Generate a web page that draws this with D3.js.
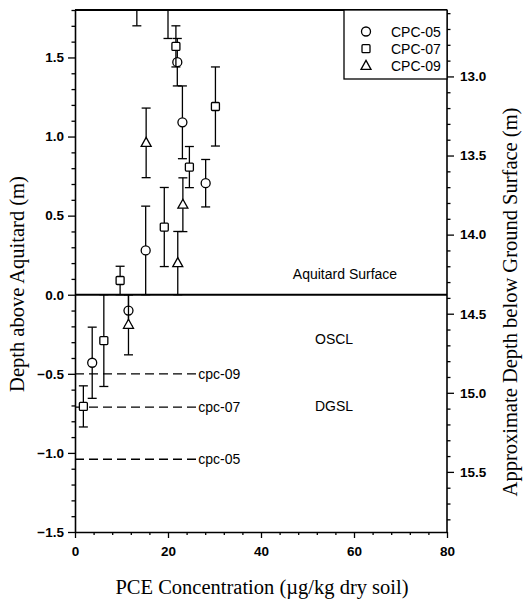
<!DOCTYPE html>
<html><head><meta charset="utf-8">
<script src="https://cdn.jsdelivr.net/npm/d3@7"></script>
<style>body{margin:0;background:#fff}svg{display:block}</style>
</head><body><svg id="c" width="525" height="604"></svg>
<script>
// ---- data ----
const seriesNames = ["CPC-05", "CPC-07", "CPC-09"];
const cpc05X = [20.0, 22.0, 23.1, 28.1, 15.2, 11.5, 3.7];
const cpc05Y = [1.90, 1.47, 1.09, 0.705, 0.28, -0.10, -0.43];
const cpc05E = [0.28, 0.15, 0.23, 0.15, 0.28, 0.10, 0.225];
const cpc07X = [21.7, 30.2, 24.6, 19.2, 9.7, 6.2, 1.8];
const cpc07Y = [1.57, 1.19, 0.807, 0.428, 0.09, -0.29, -0.706];
const cpc07E = [0.13, 0.25, 0.13, 0.25, 0.09, 0.29, 0.13];
const cpc09X = [13.3, 15.3, 23.2, 22.1, 11.5];
const cpc09Y = [2.00, 0.96, 0.569, 0.20, -0.19];
const cpc09E = [0.30, 0.22, 0.17, 0.20, 0.19];
const layerNames = ["cpc-09", "cpc-07", "cpc-05"];
const layerDepth = [-0.50, -0.71, -1.04];
const layerEndX = 26.5;
const xTicks = [0, 20, 40, 60, 80];
const yTicks = [-1.5, -1.0, -0.5, 0.0, 0.5, 1.0, 1.5];
const rTicks = [13.0, 13.5, 14.0, 14.5, 15.0, 15.5];
const aquitardDepthBGS = 14.38; // ground-surface depth at aquitard surface

// ---- layout ----
const svg = d3.select("#c");
const L = 75, R = 447, T = 10, B = 532;
const x = d3.scaleLinear().domain([0, 80]).range([L, R]);
const y = d3.scaleLinear().domain([-1.5, 1.8]).range([B, T]);
const yr = d3.scaleLinear().domain([aquitardDepthBGS - 1.8, aquitardDepthBGS + 1.5]).range([T, B]);
const tickFont = "bold 13.5px 'Liberation Sans', Arial, sans-serif";
const txtFont = "14px 'Liberation Sans', Arial, sans-serif";

svg.append("defs").append("clipPath").attr("id", "clip")
  .append("rect").attr("x", L).attr("y", T).attr("width", R - L).attr("height", B - T);

// minor ticks
const minorX = d3.range(0, 81, 4).filter(v => v % 20 !== 0);
const minorY = d3.range(-15, 19, 1).filter(v => v % 5 !== 0).map(v => v / 10);
const minorR = d3.range(126, 159, 1).filter(v => v % 5 !== 0).map(v => v / 10);

svg.append("g").attr("transform", `translate(0,${B})`)
  .call(d3.axisBottom(x).tickValues(xTicks).tickFormat(d3.format("d")).tickSize(6).tickSizeOuter(0).tickPadding(8));
svg.append("g").attr("transform", `translate(0,${B})`)
  .call(d3.axisBottom(x).tickValues(minorX).tickFormat("").tickSize(3).tickSizeOuter(0)).select(".domain").remove();
svg.append("g").attr("transform", `translate(${L},0)`)
  .call(d3.axisLeft(y).tickValues(yTicks).tickFormat(d3.format(".1f")).tickSize(7).tickSizeOuter(0).tickPadding(4));
svg.append("g").attr("transform", `translate(${L},0)`)
  .call(d3.axisLeft(y).tickValues(minorY).tickFormat("").tickSize(3.5).tickSizeOuter(0)).select(".domain").remove();
const gr = svg.append("g").attr("transform", `translate(${R},0)`)
  .call(d3.axisRight(yr).tickValues(rTicks).tickFormat(d3.format(".1f")).tickSize(7).tickSizeOuter(0).tickPadding(6));
gr.select(".domain").remove();
svg.append("g").attr("transform", `translate(${R},0)`)
  .call(d3.axisRight(yr).tickValues(minorR).tickFormat("").tickSize(3.5).tickSizeOuter(0)).select(".domain").remove();
svg.selectAll(".tick text").style("font", tickFont).attr("fill", "#000");
svg.selectAll(".tick line").attr("stroke", "#000").attr("stroke-width", 1.3);

// frame lines
svg.append("line").attr("x1", L).attr("x2", R).attr("y1", T).attr("y2", T).attr("stroke", "#000").attr("stroke-width", 2);
svg.append("line").attr("x1", R).attr("x2", R).attr("y1", T).attr("y2", B).attr("stroke", "#000").attr("stroke-width", 1.6);
svg.selectAll(".domain").attr("stroke", "#000").attr("stroke-width", 1.6);
// aquitard line
svg.append("line").attr("x1", L).attr("x2", R).attr("y1", y(0)).attr("y2", y(0)).attr("stroke", "#000").attr("stroke-width", 1.8);

// layer dashed lines
const lg = svg.append("g");
layerDepth.forEach((d, i) => {
  lg.append("line").attr("x1", x(0)).attr("x2", x(layerEndX)).attr("y1", y(d)).attr("y2", y(d))
    .attr("stroke", "#000").attr("stroke-width", 1.3).attr("stroke-dasharray", "9,5");
  lg.append("text").attr("x", x(layerEndX)).attr("y", y(d) + 5).text(layerNames[i]).style("font", txtFont);
});

// annotations
const ann = svg.append("g").style("font", txtFont);
ann.append("text").attr("x", 345).attr("y", 279).attr("text-anchor", "middle").text("Aquitard Surface");
ann.append("text").attr("x", 315).attr("y", 344).text("OSCL");
ann.append("text").attr("x", 315).attr("y", 411).text("DGSL");

// points with error bars
const plot = svg.append("g").attr("clip-path", "url(#clip)");
const sets = [[cpc05X, cpc05Y, cpc05E, "circle"], [cpc07X, cpc07Y, cpc07E, "square"], [cpc09X, cpc09Y, cpc09E, "triangle"]];
function marker(g, type, cx, cy) {
  if (type === "circle") g.append("circle").attr("cx", cx).attr("cy", cy).attr("r", 4.5);
  else if (type === "square") g.append("rect").attr("x", cx - 4).attr("y", cy - 4).attr("width", 8).attr("height", 8).attr("rx", 1);
  else g.append("path").attr("d", `M${cx},${cy - 5.5}L${cx + 5},${cy + 3.5}L${cx - 5},${cy + 3.5}Z`);
}
sets.forEach(([xs, ys, es, type]) => {
  xs.forEach((xv, i) => {
    const cx = x(xv), cy = y(ys[i]), y1 = y(ys[i] + es[i]), y2 = y(ys[i] - es[i]);
    const g = plot.append("g").attr("stroke", "#000").attr("stroke-width", 1.3).attr("fill", "#fff");
    g.append("line").attr("x1", cx).attr("x2", cx).attr("y1", y1).attr("y2", y2);
    g.append("line").attr("x1", cx - 4.5).attr("x2", cx + 4.5).attr("y1", y1).attr("y2", y1);
    g.append("line").attr("x1", cx - 4.5).attr("x2", cx + 4.5).attr("y1", y2).attr("y2", y2);
    marker(g, type, cx, cy);
  });
});

// legend
const leg = svg.append("g");
leg.append("rect").attr("x", 344).attr("y", T).attr("width", R - 344).attr("height", 69)
  .attr("fill", "#fff").attr("stroke", "#000").attr("stroke-width", 1.3);
["circle", "square", "triangle"].forEach((t, i) => {
  const g = leg.append("g").attr("stroke", "#000").attr("stroke-width", 1.3).attr("fill", "#fff");
  marker(g, t, 366, 31.5 + i * 17.2);
  leg.append("text").attr("x", 391).attr("y", 36.5 + i * 17.2).text(seriesNames[i]).style("font", txtFont);
});

// titles
const tf = "20.5px 'Liberation Serif', 'Times New Roman', serif";
svg.append("text").attr("x", 262).attr("y", 594).attr("text-anchor", "middle").style("font", tf)
  .text("PCE Concentration (\u00b5g/kg dry soil)");
svg.append("text").attr("transform", "translate(24,284) rotate(-90)").attr("text-anchor", "middle").style("font", tf)
  .text("Depth above Aquitard (m)");
svg.append("text").attr("transform", "translate(517,302) rotate(-90)").attr("text-anchor", "middle").style("font", tf)
  .text("Approximate Depth below Ground Surface (m)");
</script></body></html>
